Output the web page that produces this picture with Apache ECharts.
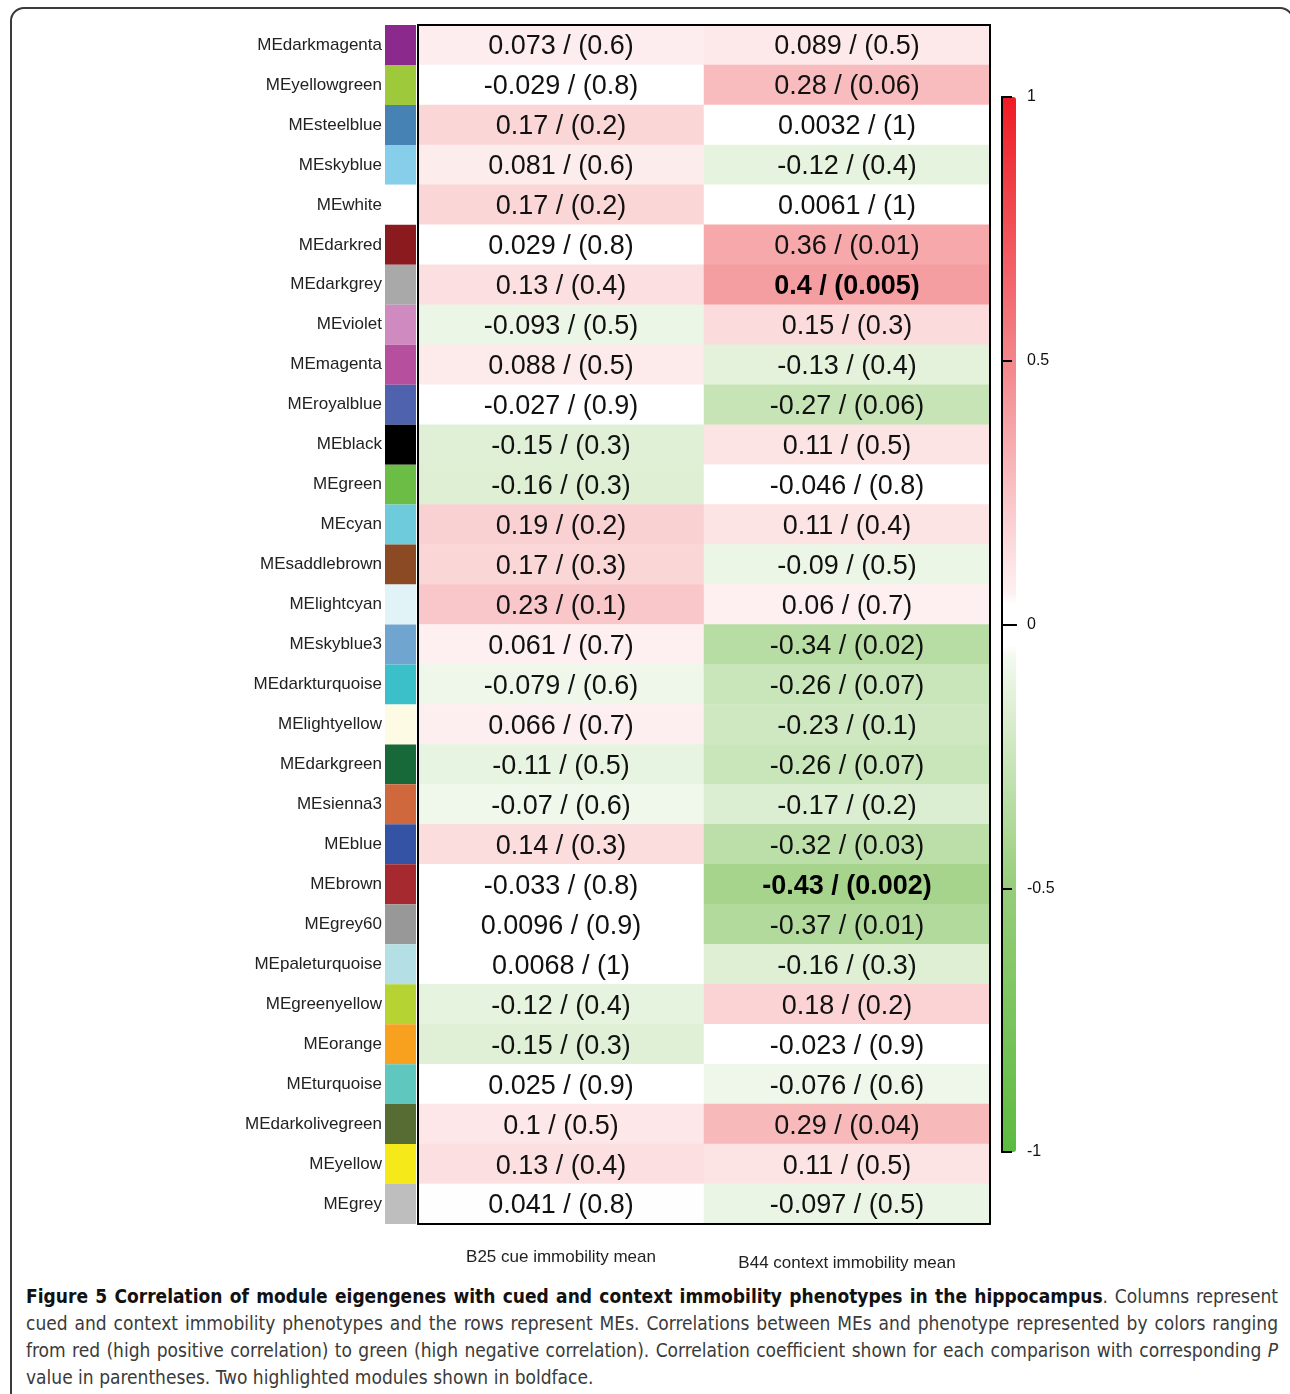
<!DOCTYPE html>
<html>
<head>
<meta charset="utf-8">
<script src="https://cdn.jsdelivr.net/npm/echarts@6/dist/echarts.min.js"></script>
<style>
  html, body { margin: 0; padding: 0; background: #fff; width: 1290px; height: 1394px; overflow: hidden; }
  #frame { position: absolute; left: 10px; top: 7px; width: 1284px; height: 1400px; box-sizing: border-box;
           border: 2px solid #3a3a3a; border-radius: 14px; }
  #chart { position: absolute; left: 0; top: 0; width: 1290px; height: 1280px; }
  #caption { position: absolute; left: 26px; top: 1283px; width: 1252px;
             font-family: "Liberation Sans Narrow", "DejaVu Sans Condensed", "Liberation Sans", sans-serif;
             font-size: 19px; line-height: 27px; color: #3a3a3a; }
  #caption .j { text-align: justify; text-align-last: justify; }
  #caption b { color: #111; }
</style>
</head>
<body>
<div id="frame"></div>
<div id="chart"></div>
<div id="caption">
  <div class="j"><b>Figure 5 Correlation of module eigengenes with cued and context immobility phenotypes in the hippocampus</b>. Columns represent</div>
  <div class="j">cued and context immobility phenotypes and the rows represent MEs. Correlations between MEs and phenotype represented by colors ranging</div>
  <div class="j">from red (high positive correlation) to green (high negative correlation). Correlation coefficient shown for each comparison with corresponding <i>P</i></div>
  <div>value in parentheses. Two highlighted modules shown in boldface.</div>
</div>
<script>
// ---------------- data ----------------
const modules = ['MEdarkmagenta','MEyellowgreen','MEsteelblue','MEskyblue','MEwhite','MEdarkred','MEdarkgrey','MEviolet','MEmagenta','MEroyalblue','MEblack','MEgreen','MEcyan','MEsaddlebrown','MElightcyan','MEskyblue3','MEdarkturquoise','MElightyellow','MEdarkgreen','MEsienna3','MEblue','MEbrown','MEgrey60','MEpaleturquoise','MEgreenyellow','MEorange','MEturquoise','MEdarkolivegreen','MEyellow','MEgrey'];
const moduleColors = ['#8b2a8c','#9dc93b','#4682b4','#87ceeb','#ffffff','#8a1a1d','#a9a9a9','#cf8bc0','#b6509e','#4f62ad','#000000','#6cbd45','#6dcbdc','#8b4a24','#e2f3f8','#6fa5cf','#3bbfc9','#fefbe4','#17693a','#d0683e','#3553a4','#a5292e','#989898','#b4e0e5','#b5d333','#f7a11e','#5fc7be','#566c32','#f5e91a','#bebebe'];
const phenotypes = ['B25 cue immobility mean','B44 context immobility mean'];
const corrCue = [0.073,-0.029,0.17,0.081,0.17,0.029,0.13,-0.093,0.088,-0.027,-0.15,-0.16,0.19,0.17,0.23,0.061,-0.079,0.066,-0.11,-0.07,0.14,-0.033,0.0096,0.0068,-0.12,-0.15,0.025,0.1,0.13,0.041];
const pCue    = [0.6,0.8,0.2,0.6,0.2,0.8,0.4,0.5,0.5,0.9,0.3,0.3,0.2,0.3,0.1,0.7,0.6,0.7,0.5,0.6,0.3,0.8,0.9,1,0.4,0.3,0.9,0.5,0.4,0.8];
const corrContext = [0.089,0.28,0.0032,-0.12,0.0061,0.36,0.4,0.15,-0.13,-0.27,0.11,-0.046,0.11,-0.09,0.06,-0.34,-0.26,-0.23,-0.26,-0.17,-0.32,-0.43,-0.37,-0.16,0.18,-0.023,-0.076,0.29,0.11,-0.097];
const pContext    = [0.5,0.06,1,0.4,1,0.01,0.005,0.3,0.4,0.06,0.5,0.8,0.4,0.5,0.7,0.02,0.07,0.1,0.07,0.2,0.03,0.002,0.01,0.3,0.2,0.9,0.6,0.04,0.5,0.5];
const boldCells = [[1, 6], [1, 21]];   // [column, row] highlighted modules
const colorbarTicks = [-1, -0.5, 0, 0.5, 1];

// ---------------- colour scale (green - white - red) ----------------
function mix(a, b, t) { return a.map((x, i) => Math.round(x + (b[i] - x) * t)); }
const GREEN_END = [93, 187, 64], RED_END = [238, 28, 36];
function colorAt(v) {
  const a = Math.abs(v);
  if (a < 0.05) return [255, 255, 255];
  if (v < 0) {
    const m = x => [255 - 208 * x, 255 - 100 * x, 255 - 267 * x];
    return a <= 0.5 ? m(a).map(Math.round) : mix(m(0.5).map(Math.round), GREEN_END, (a - 0.5) / 0.5);
  }
  const m = x => [255 - 25 * x, 255 - 243 * x, 255 - 233 * x];
  return a <= 0.5 ? m(a).map(Math.round) : mix(m(0.5).map(Math.round), RED_END, (a - 0.5) / 0.5);
}
const scaleStops = [];
for (let i = 0; i <= 200; i++) {
  const c = colorAt(-1 + i * 0.01);
  scaleStops.push('rgb(' + c.join(',') + ')');
}

// ---------------- build ----------------
const corr = [corrCue, corrContext];
const pv = [pCue, pContext];
const heatData = [];
for (let c = 0; c < 2; c++) {
  for (let r = 0; r < modules.length; r++) heatData.push([c, r, corr[c][r]]);
}
const isBold = (c, r) => boldCells.some(b => b[0] === c && b[1] === r);

const FONT = '"Liberation Sans", Arial, sans-serif';
const G = { left: 418, top: 25, width: 572, height: 1199 };
const SW = { left: 385, top: 25, width: 31, height: 1199 };
const CB = { left: 1002, top: 97, width: 14, height: 1055 };

const chart = echarts.init(document.getElementById('chart'), null, { renderer: 'canvas' });
chart.setOption({
  animation: false,
  textStyle: { fontFamily: FONT },
  grid: [
    { left: G.left, top: G.top, width: G.width, height: G.height },
    { left: SW.left, top: SW.top, width: SW.width, height: SW.height },
    { left: CB.left, top: CB.top, width: CB.width, height: CB.height }
  ],
  xAxis: [
    { gridIndex: 0, type: 'category', position: 'bottom', z: 10,
      data: [phenotypes[0], { value: phenotypes[1], textStyle: { padding: [6, 0, 0, 0] } }],
      axisLine: { show: true, lineStyle: { color: '#000', width: 2 } },
      axisTick: { show: false }, splitLine: { show: false },
      axisLabel: { margin: 25, fontSize: 17, color: '#222', fontFamily: FONT } },
    { gridIndex: 0, type: 'category', position: 'top', z: 10, data: phenotypes,
      axisLine: { show: true, lineStyle: { color: '#000', width: 2 } },
      axisTick: { show: false }, axisLabel: { show: false } },
    { gridIndex: 1, type: 'value', min: 0, max: 1, show: false },
    { gridIndex: 2, type: 'value', min: 0, max: 1, position: 'top', z: 10,
      axisLine: { show: true, lineStyle: { color: '#000', width: 2 } },
      axisTick: { show: false }, axisLabel: { show: false }, splitLine: { show: false } },
    { gridIndex: 2, type: 'value', min: 0, max: 1, position: 'bottom', z: 10,
      axisLine: { show: true, lineStyle: { color: '#000', width: 2 } },
      axisTick: { show: false }, axisLabel: { show: false }, splitLine: { show: false } }
  ],
  yAxis: [
    { gridIndex: 0, type: 'category', inverse: true, data: modules, position: 'left', z: 10,
      axisLine: { show: true, lineStyle: { color: '#000', width: 2 } },
      axisTick: { show: false }, axisLabel: { show: false } },
    { gridIndex: 0, type: 'category', inverse: true, data: modules, position: 'right', z: 10,
      axisLine: { show: true, lineStyle: { color: '#000', width: 2 } },
      axisTick: { show: false }, axisLabel: { show: false } },
    { gridIndex: 1, type: 'category', inverse: true, data: modules, position: 'left',
      axisLine: { show: false }, axisTick: { show: false },
      axisLabel: { margin: 3, fontSize: 17, color: '#222', fontFamily: FONT } },
    { gridIndex: 2, type: 'value', min: -1, max: 1, interval: 0.5, position: 'right', z: 10,
      axisLine: { show: true, lineStyle: { color: '#000', width: 2 } },
      axisTick: { show: true, inside: false, length: 10, lineStyle: { color: '#000', width: 2 } },
      splitLine: { show: false },
      axisLabel: { margin: 11, fontSize: 16, color: '#111', fontFamily: FONT,
                   formatter: v => colorbarTicks.includes(v) ? String(v) : '' } },
    { gridIndex: 2, type: 'value', min: -1, max: 1, interval: 0.5, position: 'left', z: 10,
      axisLine: { show: true, lineStyle: { color: '#000', width: 2 } },
      axisTick: { show: false }, axisLabel: { show: false }, splitLine: { show: false } }
  ],
  visualMap: {
    type: 'continuous', seriesIndex: 0, dimension: 2, min: -1, max: 1,
    orient: 'vertical', left: CB.left, top: CB.top, itemWidth: CB.width, itemHeight: CB.height,
    padding: 0, calculable: false, text: null, showLabel: false, hoverLink: false,
    inRange: { color: scaleStops }
  },
  series: [
    { type: 'heatmap', xAxisIndex: 0, yAxisIndex: 0, data: heatData,
      itemStyle: { borderWidth: 0 },
      emphasis: { disabled: true },
      label: {
        show: true, fontSize: 27, color: '#111', fontFamily: FONT, offset: [0, 2],
        formatter: p => {
          const c = p.data[0], r = p.data[1];
          const s = corr[c][r] + ' / (' + pv[c][r] + ')';
          return isBold(c, r) ? '{b|' + s + '}' : s;
        },
        rich: { b: { fontSize: 27, fontWeight: 'bold', color: '#000', fontFamily: FONT } }
      } },
    { type: 'bar', xAxisIndex: 2, yAxisIndex: 2, barWidth: '100%', silent: true,
      data: moduleColors.map(col => ({ value: 1, itemStyle: { color: col } })) }
  ]
});
</script>
</body>
</html>
